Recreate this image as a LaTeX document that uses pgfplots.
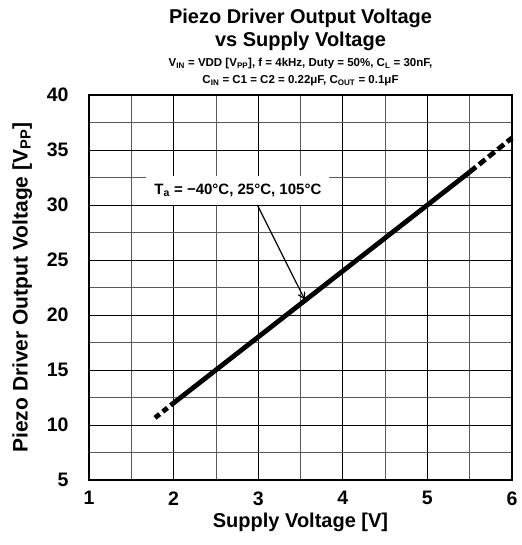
\documentclass[border=0pt]{standalone}
\usepackage{pgfplots}
\pgfplotsset{compat=1.18}
\usetikzlibrary{arrows.meta}
\usepackage{fontspec}
\setmainfont{Liberation Sans}
\begin{document}
\begin{tikzpicture}
\begin{axis}[
  name=ax,
  scale only axis,
  width=423pt, height=385pt,
  xmin=1, xmax=6, ymin=5, ymax=40,
  xtick={1,2,3,4,5,6},
  ytick={5,10,15,20,25,30,35,40},
  minor xtick={1.5,2.5,3.5,4.5,5.5},
  minor ytick={7.5,12.5,17.5,22.5,27.5,32.5,37.5},
  grid=both,
  major grid style={black, line width=0.7pt},
  minor grid style={black!65, line width=0.7pt},
  tick style={draw=none},
  axis line style={black, line width=1.4pt},
  /pgf/number format/assume math mode=true,
  ticklabel style={font=\fontsize{19.5}{21}\selectfont\bfseries},
  xticklabel style={yshift=-8pt},
  yticklabel style={xshift=-17pt},
  xlabel={Supply Voltage [V]},
  ylabel={Piezo Driver Output Voltage [V\textsubscript{PP}]},
  xlabel style={font=\fontsize{20}{22}\selectfont\bfseries, at={(axis description cs:0.5,-0.109)}, anchor=center},
  ylabel style={font=\fontsize{21}{23}\selectfont\bfseries, at={(axis description cs:-0.158,0.5)}, anchor=center},
  clip=false,
]
\addplot[black, line width=4.8pt, dash pattern=on 6pt off 4pt] coordinates {(1.78,10.65) (2.0,12.0)};
\addplot[black, line width=4.8pt] coordinates {(2.0,12.0) (2.5,15.0) (3.0,18.0) (3.5,21.0) (4.0,24.0) (4.5,27.0) (5.0,30.0) (5.5,33.0)};
\addplot[black, line width=4.8pt, dash pattern=on 8pt off 4pt] coordinates {(5.5,33.0) (6.0,36.1)};
\node[fill=white, inner xsep=8pt, inner ysep=8pt, font=\fontsize{15}{17}\selectfont\bfseries] at (axis cs:2.76,31.35) {T\textsubscript{a} = −40°C, 25°C, 105°C};
\draw[black, line width=1.2pt, -{Straight Barb[length=6pt,width=7pt]}] (axis cs:2.99,30.0) -- (axis cs:3.55,21.4);
\end{axis}
\path ([xshift=-89pt,yshift=-65pt]ax.south west) rectangle ([xshift=9pt,yshift=95pt]ax.north east);
\node[anchor=base, font=\fontsize{11.5}{13}\selectfont\bfseries] at ([yshift=11pt]ax.north) {C\textsubscript{IN} = C1 = C2 = 0.22μF, C\textsubscript{OUT} = 0.1μF};
\node[anchor=base, font=\fontsize{11.5}{13}\selectfont\bfseries] at ([yshift=28pt]ax.north) {V\textsubscript{IN} = VDD [V\textsubscript{PP}], f = 4kHz, Duty = 50\%, C\textsubscript{L} = 30nF,};
\node[anchor=base, font=\fontsize{20}{22}\selectfont\bfseries] at ([yshift=48pt]ax.north) {vs Supply Voltage};
\node[anchor=base, font=\fontsize{20}{22}\selectfont\bfseries] at ([yshift=71pt]ax.north) {Piezo Driver Output Voltage};
\end{tikzpicture}
\end{document}
